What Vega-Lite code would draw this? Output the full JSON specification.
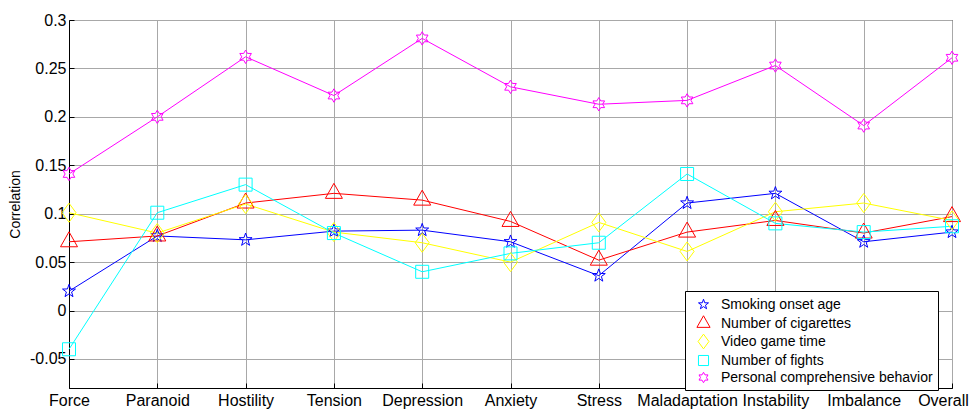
{
  "$schema": "https://vega.github.io/schema/vega-lite/v6.json",
  "width": 883,
  "height": 368,
  "autosize": {"type": "none"},
  "padding": {"left": 69, "top": 20, "right": 17, "bottom": 22},
  "background": "white",
  "config": {
    "font": "Liberation Sans",
    "view": {"stroke": "black", "strokeWidth": 1},
    "axis": {
      "domainColor": "black",
      "tickColor": "black",
      "gridColor": "#a8a8a8",
      "gridWidth": 1,
      "gridOpacity": 1,
      "labelColor": "black",
      "labelFont": "Liberation Sans",
      "labelFontSize": 16,
      "titleFont": "Liberation Sans",
      "titleFontSize": 14,
      "titleFontWeight": "normal",
      "titleColor": "black"
    },
    "legend": {
      "labelFont": "Liberation Sans",
      "labelFontSize": 14,
      "labelColor": "black"
    }
  },
  "data": {
    "values": [
      {"cat": "Force", "series": "Smoking onset age", "value": 0.02},
      {"cat": "Paranoid", "series": "Smoking onset age", "value": 0.077},
      {"cat": "Hostility", "series": "Smoking onset age", "value": 0.073},
      {"cat": "Tension", "series": "Smoking onset age", "value": 0.082},
      {"cat": "Depression", "series": "Smoking onset age", "value": 0.083},
      {"cat": "Anxiety", "series": "Smoking onset age", "value": 0.071},
      {"cat": "Stress", "series": "Smoking onset age", "value": 0.036},
      {"cat": "Maladaptation", "series": "Smoking onset age", "value": 0.111},
      {"cat": "Instability", "series": "Smoking onset age", "value": 0.121},
      {"cat": "Imbalance", "series": "Smoking onset age", "value": 0.071},
      {"cat": "Overall", "series": "Smoking onset age", "value": 0.081},
      {"cat": "Force", "series": "Number of cigarettes", "value": 0.071},
      {"cat": "Paranoid", "series": "Number of cigarettes", "value": 0.077},
      {"cat": "Hostility", "series": "Number of cigarettes", "value": 0.111},
      {"cat": "Tension", "series": "Number of cigarettes", "value": 0.121},
      {"cat": "Depression", "series": "Number of cigarettes", "value": 0.114},
      {"cat": "Anxiety", "series": "Number of cigarettes", "value": 0.092},
      {"cat": "Stress", "series": "Number of cigarettes", "value": 0.052},
      {"cat": "Maladaptation", "series": "Number of cigarettes", "value": 0.081},
      {"cat": "Instability", "series": "Number of cigarettes", "value": 0.093},
      {"cat": "Imbalance", "series": "Number of cigarettes", "value": 0.08},
      {"cat": "Overall", "series": "Number of cigarettes", "value": 0.097},
      {"cat": "Force", "series": "Video game time", "value": 0.101},
      {"cat": "Paranoid", "series": "Video game time", "value": 0.08},
      {"cat": "Hostility", "series": "Video game time", "value": 0.11},
      {"cat": "Tension", "series": "Video game time", "value": 0.081},
      {"cat": "Depression", "series": "Video game time", "value": 0.07},
      {"cat": "Anxiety", "series": "Video game time", "value": 0.05},
      {"cat": "Stress", "series": "Video game time", "value": 0.091},
      {"cat": "Maladaptation", "series": "Video game time", "value": 0.061},
      {"cat": "Instability", "series": "Video game time", "value": 0.102},
      {"cat": "Imbalance", "series": "Video game time", "value": 0.111},
      {"cat": "Overall", "series": "Video game time", "value": 0.093},
      {"cat": "Force", "series": "Number of fights", "value": -0.04},
      {"cat": "Paranoid", "series": "Number of fights", "value": 0.101},
      {"cat": "Hostility", "series": "Number of fights", "value": 0.13},
      {"cat": "Tension", "series": "Number of fights", "value": 0.08},
      {"cat": "Depression", "series": "Number of fights", "value": 0.04},
      {"cat": "Anxiety", "series": "Number of fights", "value": 0.059},
      {"cat": "Stress", "series": "Number of fights", "value": 0.07},
      {"cat": "Maladaptation", "series": "Number of fights", "value": 0.141},
      {"cat": "Instability", "series": "Number of fights", "value": 0.09},
      {"cat": "Imbalance", "series": "Number of fights", "value": 0.081},
      {"cat": "Overall", "series": "Number of fights", "value": 0.087},
      {"cat": "Force", "series": "Personal comprehensive behavior", "value": 0.141},
      {"cat": "Paranoid", "series": "Personal comprehensive behavior", "value": 0.2},
      {"cat": "Hostility", "series": "Personal comprehensive behavior", "value": 0.262},
      {"cat": "Tension", "series": "Personal comprehensive behavior", "value": 0.222},
      {"cat": "Depression", "series": "Personal comprehensive behavior", "value": 0.281},
      {"cat": "Anxiety", "series": "Personal comprehensive behavior", "value": 0.231},
      {"cat": "Stress", "series": "Personal comprehensive behavior", "value": 0.213},
      {"cat": "Maladaptation", "series": "Personal comprehensive behavior", "value": 0.217},
      {"cat": "Instability", "series": "Personal comprehensive behavior", "value": 0.253},
      {"cat": "Imbalance", "series": "Personal comprehensive behavior", "value": 0.191},
      {"cat": "Overall", "series": "Personal comprehensive behavior", "value": 0.261}
    ]
  },
  "encoding": {
    "x": {
      "field": "cat",
      "type": "nominal",
      "sort": null,
      "scale": {"type": "point", "padding": 0},
      "axis": {
        "title": null,
        "grid": true,
        "labelAngle": 0,
        "labelOverlap": false,
        "labelBound": false,
        "tickSize": -5,
        "labelPadding": 9,
        "labelOffset": {"condition": {"test": "datum.value === 'Overall'", "value": -9}, "value": 0}
      }
    },
    "y": {
      "field": "value",
      "type": "quantitative",
      "scale": {"domain": [-0.08, 0.3], "nice": false, "zero": false},
      "axis": {
        "title": "Correlation",
        "titleFontSize": 14,
        "titlePadding": 7,
        "values": [-0.05, 0, 0.05, 0.1, 0.15, 0.2, 0.25, 0.3],
        "labelExpr": "'' + datum.value",
        "grid": true,
        "tickSize": -5,
        "labelPadding": 8
      }
    },
    "color": {
      "field": "series",
      "type": "nominal",
      "scale": {
        "domain": ["Smoking onset age", "Number of cigarettes", "Video game time", "Number of fights", "Personal comprehensive behavior"],
        "range": ["#0000ff", "#ff0000", "#ffff00", "#00ffff", "#ff00ff"]
      },
      "legend": {
        "title": null,
        "orient": "none",
        "legendX": 616,
        "legendY": 271,
        "strokeColor": "black",
        "fillColor": "white",
        "padding": 5,
        "symbolSize": 240,
        "symbolStrokeWidth": 1,
        "symbolOffset": 5,
        "labelOffset": 9,
        "labelLimit": 400,
        "rowPadding": 1
      }
    }
  },
  "layer": [
    {
      "mark": {"type": "line", "strokeWidth": 1}
    },
    {
      "mark": {"type": "point", "filled": false, "strokeWidth": 1, "size": 400, "opacity": 1},
      "encoding": {
        "shape": {
          "field": "series",
          "type": "nominal",
          "scale": {
            "domain": ["Smoking onset age", "Number of cigarettes", "Video game time", "Number of fights", "Personal comprehensive behavior"],
            "range": [
              "M0,-0.68L0.16,-0.22L0.647,-0.21L0.258,0.084L0.4,0.55L0,0.272L-0.4,0.55L-0.258,0.084L-0.647,-0.21L-0.16,-0.22Z",
              "M0,-1L0.85,0.5L-0.85,0.5Z",
              "M0,-0.95L0.7,0L0,0.95L-0.7,0Z",
              "M-0.65,-0.65L0.65,-0.65L0.65,0.65L-0.65,0.65Z",
              "M0,-0.67L0.194,-0.335L0.58,-0.335L0.387,0L0.58,0.335L0.194,0.335L0,0.67L-0.194,0.335L-0.58,0.335L-0.387,0L-0.58,-0.335L-0.194,-0.335Z"
            ]
          },
          "legend": {
            "title": null,
            "orient": "none",
            "legendX": 616,
            "legendY": 271,
            "symbolSize": 240
          }
        }
      }
    }
  ]
}
